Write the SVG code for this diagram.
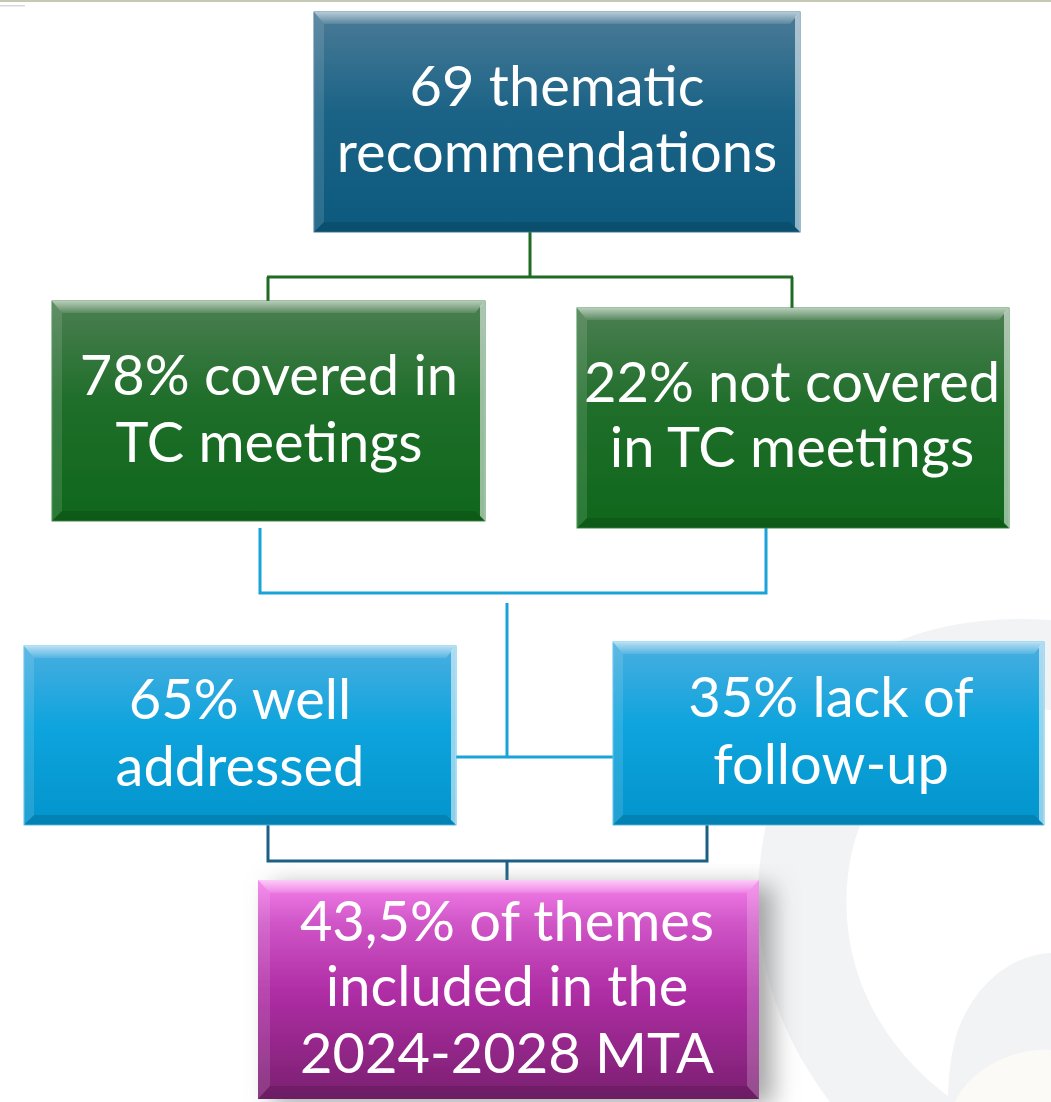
<svg xmlns="http://www.w3.org/2000/svg" width="1051" height="1102" viewBox="0 0 1051 1102">
  <defs>
    <style>
      .lbl { font-family: Lato, "Open Sans", "Liberation Sans", sans-serif; font-size: 56px; fill: #ffffff; text-anchor: middle; }
      .conn { fill: none; stroke-width: 3; }
      .g { stroke: #1f6b24; }
      .b { stroke: #1aa3d8; }
      .d { stroke: #1b6084; }
      .bt { fill: url(#bevTop); }
      .bl { fill: #ffffff; fill-opacity: 0.12; }
      .br { fill: #ffffff; fill-opacity: 0.55; }
      .bb { fill: #000000; fill-opacity: 0.12; }
    </style>
    <linearGradient id="bevTop" x1="0" y1="0" x2="0" y2="1">
      <stop offset="0" stop-color="#ffffff" stop-opacity="0.6"/>
      <stop offset="1" stop-color="#ffffff" stop-opacity="0.1"/>
    </linearGradient>
    <linearGradient id="gTop" x1="0" y1="0" x2="0" y2="1">
      <stop offset="0" stop-color="#4b7b97"/>
      <stop offset="0.45" stop-color="#1b6386"/>
      <stop offset="1" stop-color="#0c5a7e"/>
    </linearGradient>
    <linearGradient id="gGreen" x1="0" y1="0" x2="0" y2="1">
      <stop offset="0" stop-color="#4c7f52"/>
      <stop offset="0.45" stop-color="#1f6e2a"/>
      <stop offset="1" stop-color="#0f671b"/>
    </linearGradient>
    <linearGradient id="gBlue" x1="0" y1="0" x2="0" y2="1">
      <stop offset="0" stop-color="#4aaee0"/>
      <stop offset="0.45" stop-color="#0ea4dd"/>
      <stop offset="1" stop-color="#0394cc"/>
    </linearGradient>
    <linearGradient id="gMag" x1="0" y1="0" x2="0" y2="1">
      <stop offset="0" stop-color="#f680ec"/>
      <stop offset="0.2" stop-color="#cf55c6"/>
      <stop offset="0.5" stop-color="#b02ea6"/>
      <stop offset="1" stop-color="#7a2070"/>
    </linearGradient>
    <filter id="shadow" x="-10%" y="-10%" width="130%" height="125%">
      <feGaussianBlur in="SourceAlpha" stdDeviation="12"/>
      <feOffset dx="14" dy="6" result="o"/>
      <feFlood flood-color="#808080" flood-opacity="0.7"/>
      <feComposite in2="o" operator="in"/>
      <feMerge><feMergeNode/><feMergeNode in="SourceGraphic"/></feMerge>
    </filter>
  </defs>

  <rect x="0" y="0" width="1051" height="1102" fill="#ffffff"/>

  <!-- background decoration -->
  <g id="background">
    <path d="M1051,620 C980,615 920,628 880,650 C800,700 758,800 758,900 C758,980 790,1050 830,1102 L1051,1102 Z" fill="#f2f3f5"/>
    <path d="M1051,710 C960,700 880,760 855,840 C835,910 850,990 900,1050 C920,1075 940,1090 955,1102 L1051,1102 Z" fill="#ffffff"/>
    <path d="M1051,953 C1010,955 975,985 958,1030 C950,1055 948,1080 948,1102 L1051,1102 Z" fill="#f2f3f5"/>
    <path d="M1051,1050 C1010,1048 970,1070 955,1102 L1051,1102 Z" fill="#fbfaf6"/>
    <rect x="0" y="0" width="1051" height="2" fill="#c6c8b6"/>
    <rect x="0" y="5" width="25" height="1.5" fill="#d8d8d8"/>
  </g>

  <!-- connectors -->
  <g id="connectors">
    <path class="conn g" d="M530,232 V277 M267,277 H793 M268,277 V301 M792,277 V308"/>
    <path class="conn b" d="M260,528 V593 H766 V528 M507,603 V757 M456,757 H613"/>
    <path class="conn d" d="M268,825 V861 H707 V825 M507,861 V880"/>
  </g>

  <!-- top node -->
  <g id="node-top">
    <rect x="314" y="12" width="486" height="220" fill="url(#gTop)" stroke="#3f7896" stroke-width="1"/>
    <polygon class="bt" points="314,12 800,12 790,24 324,24"/>
    <polygon class="bl" points="314,12 324,24 324,222 314,232"/>
    <polygon class="br" points="800,12 800,232 795,227 795,17"/>
    <polygon class="bb" points="314,232 800,232 790,222 324,222"/>
    <text class="lbl" x="557" y="106">69 thematic</text>
    <text class="lbl" x="557" y="172">recommendations</text>
  </g>

  <!-- green left -->
  <g id="node-covered">
    <rect x="52" y="301" width="433" height="220" fill="url(#gGreen)" stroke="#3f8a4a" stroke-width="1"/>
    <polygon class="bt" points="52,301 485,301 475,313 62,313"/>
    <polygon class="bl" points="52,301 62,313 62,511 52,521"/>
    <polygon class="br" points="485,301 485,521 480,516 480,306"/>
    <polygon class="bb" points="52,521 485,521 475,511 62,511"/>
    <text class="lbl" x="269" y="395">78% covered in</text>
    <text class="lbl" x="269" y="462">TC meetings</text>
  </g>

  <!-- green right -->
  <g id="node-not-covered">
    <rect x="577" y="308" width="432" height="220" fill="url(#gGreen)" stroke="#3f8a4a" stroke-width="1"/>
    <polygon class="bt" points="577,308 1009,308 999,320 587,320"/>
    <polygon class="bl" points="577,308 587,320 587,518 577,528"/>
    <polygon class="br" points="1009,308 1009,528 1004,523 1004,313"/>
    <polygon class="bb" points="577,528 1009,528 999,518 587,518"/>
    <text class="lbl" x="792" y="402">22% not covered</text>
    <text class="lbl" x="792" y="467">in TC meetings</text>
  </g>

  <!-- blue left -->
  <g id="node-well">
    <rect x="24" y="646" width="432" height="179" fill="url(#gBlue)" stroke="#5cc0ea" stroke-width="1"/>
    <polygon class="bt" points="24,646 456,646 446,658 34,658"/>
    <polygon class="bl" points="24,646 34,658 34,815 24,825"/>
    <polygon class="br" points="456,646 456,825 451,820 451,651"/>
    <polygon class="bb" points="24,825 456,825 446,815 34,815"/>
    <text class="lbl" x="240" y="719">65% well</text>
    <text class="lbl" x="240" y="786">addressed</text>
  </g>

  <!-- blue right -->
  <g id="node-lack">
    <rect x="613" y="642" width="431" height="183" fill="url(#gBlue)" stroke="#5cc0ea" stroke-width="1"/>
    <polygon class="bt" points="613,642 1044,642 1034,654 623,654"/>
    <polygon class="bl" points="613,642 623,654 623,815 613,825"/>
    <polygon class="br" points="1044,642 1044,825 1039,820 1039,647"/>
    <polygon class="bb" points="613,825 1044,825 1034,815 623,815"/>
    <text class="lbl" x="831" y="717">35% lack of</text>
    <text class="lbl" x="831" y="784">follow-up</text>
  </g>

  <!-- magenta -->
  <g id="node-mta">
    <rect x="258" y="880" width="501" height="219" fill="url(#gMag)" filter="url(#shadow)"/>
    <polygon class="bt" points="258,880 759,880 747,893 270,893"/>
    <polygon class="bl" points="258,880 270,893 270,1086 258,1099"/>
    <polygon fill="#ffffff" fill-opacity="0.2" points="759,880 759,1099 747,1086 747,893"/>
    <polygon class="bb" points="258,1099 759,1099 747,1086 270,1086"/>
    <text class="lbl" x="507" y="941">43,5% of themes</text>
    <text class="lbl" x="507" y="1006">included in the</text>
    <text class="lbl" x="507" y="1073">2024-2028 MTA</text>
  </g>
</svg>
